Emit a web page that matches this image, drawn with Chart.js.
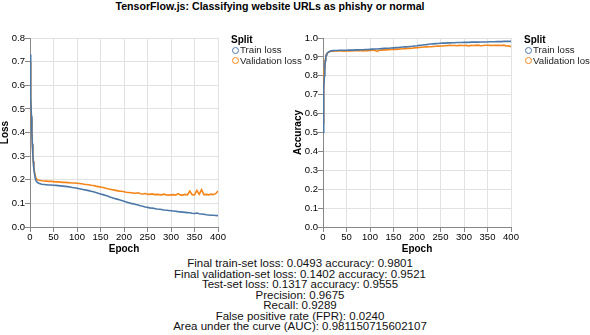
<!DOCTYPE html>
<html>
<head>
<meta charset="utf-8">
<script src="https://cdn.jsdelivr.net/npm/chart.js@4/dist/chart.umd.min.js"></script>
<style>
  body { margin:0; background:#fff; width:590px; height:335px; position:relative; overflow:hidden;
         font-family:"Liberation Sans", Arial, sans-serif; color:#000; }
  #title { position:absolute; left:0; top:0; width:540px; text-align:center; font-weight:bold; font-size:10.6px; line-height:12px; }
  canvas { position:absolute; top:0; }
  #c1 { left:0; }
  #c2 { left:293px; }
  .legend { position:absolute; top:34px; font-size:9.7px; line-height:10.5px; color:#222; }
  .legend .head { font-weight:bold; font-size:10px; line-height:11px; color:#000; }
  .legend .item { height:10.5px; white-space:nowrap; }
  .legend .dot { display:inline-block; width:5px; height:5px; border-radius:50%; border:1.4px solid; margin:0 1px 0 1px; vertical-align:-0.5px; box-sizing:content-box; }
  #lg1 { left:231px; }
  #lg2 { left:524px; }
  #stats { position:absolute; left:0; top:258px; width:600px; text-align:center; font-size:11.5px; line-height:10.5px; color:#111; }
</style>
</head>
<body>
<div id="title">TensorFlow.js: Classifying website URLs as phishy or normal</div>
<canvas id="c1" width="300" height="255"></canvas>
<canvas id="c2" width="300" height="255"></canvas>
<div class="legend" id="lg1"></div>
<div class="legend" id="lg2"></div>
<div id="stats"></div>
<script>
var epochs = [0,1,2,3,4,5,6,7,8,10,12,14,16,18,20,
  25,30,35,40,45,50,55,60,65,70,75,80,85,90,95,100,105,110,115,120,125,130,135,140,145,150,
  155,160,165,170,175,180,185,190,195,200,205,210,215,220,225,230,235,240,245,250,255,260,265,270,275,
  280,285,290,295,300,305,310,315,320,325,330,335,340,345,350,355,360,365,370,375,380,385,390,395,400];

var trainLoss = [0.73,0.64,0.55,0.47,0.40,0.35,0.31,0.275,0.25,0.22,0.20,0.192,0.188,0.186,0.184,
  0.181,0.180,0.179,0.178,0.178,0.177,0.176,0.175,0.174,0.173,0.172,0.171,0.169,0.167,0.166,0.164,0.162,0.160,0.158,0.156,0.154,0.151,0.149,0.146,0.143,0.140,
  0.137,0.134,0.131,0.127,0.124,0.121,0.118,0.115,0.112,0.109,0.106,0.103,0.100,0.098,0.095,0.093,0.090,0.088,0.085,0.083,0.081,0.080,0.078,0.076,0.075,
  0.074,0.072,0.071,0.070,0.069,0.068,0.067,0.065,0.064,0.063,0.062,0.061,0.060,0.058,0.057,0.059,0.056,0.055,0.054,0.052,0.051,0.050,0.050,0.049,0.048];

var valLoss = [0.70,0.62,0.54,0.46,0.40,0.35,0.31,0.28,0.256,0.228,0.21,0.203,0.200,0.199,0.198,
  0.196,0.195,0.194,0.193,0.193,0.192,0.191,0.191,0.190,0.189,0.189,0.188,0.187,0.186,0.186,0.185,0.184,0.183,0.181,0.180,0.179,0.177,0.176,0.173,0.171,0.169,
  0.167,0.165,0.162,0.160,0.158,0.156,0.154,0.152,0.151,0.149,0.147,0.146,0.145,0.144,0.143,0.145,0.141,0.140,0.142,0.139,0.138,0.140,0.137,0.138,0.137,
  0.136,0.139,0.136,0.135,0.136,0.137,0.135,0.141,0.136,0.135,0.138,0.136,0.152,0.137,0.136,0.155,0.138,0.158,0.137,0.138,0.136,0.139,0.137,0.141,0.152];

var trainAcc = [0.50,0.62,0.73,0.80,0.85,0.88,0.90,0.91,0.915,0.922,0.926,0.929,0.931,0.932,0.933,
  0.934,0.934,0.935,0.935,0.935,0.935,0.936,0.936,0.936,0.937,0.937,0.938,0.938,0.939,0.939,0.940,0.941,0.942,0.942,0.943,0.944,0.945,0.946,0.946,0.947,0.948,
  0.949,0.950,0.951,0.952,0.953,0.954,0.955,0.956,0.958,0.959,0.961,0.962,0.964,0.965,0.967,0.968,0.969,0.970,0.971,0.972,0.973,0.973,0.974,0.974,0.975,
  0.975,0.976,0.976,0.976,0.977,0.977,0.977,0.978,0.978,0.978,0.978,0.979,0.979,0.979,0.979,0.980,0.980,0.980,0.981,0.981,0.981,0.982,0.982,0.982,0.982];

var valAcc = [0.55,0.68,0.78,0.84,0.87,0.89,0.905,0.912,0.917,0.922,0.926,0.928,0.929,0.930,0.930,
  0.931,0.932,0.931,0.932,0.930,0.932,0.933,0.932,0.933,0.933,0.933,0.934,0.932,0.934,0.933,0.934,0.935,0.935,0.929,0.935,0.936,0.937,0.937,0.938,0.939,0.940,
  0.940,0.941,0.942,0.943,0.944,0.945,0.945,0.946,0.948,0.949,0.950,0.951,0.952,0.953,0.954,0.954,0.955,0.956,0.957,0.958,0.958,0.959,0.960,0.961,0.960,
  0.960,0.959,0.961,0.960,0.960,0.961,0.958,0.961,0.960,0.961,0.962,0.959,0.960,0.962,0.962,0.961,0.960,0.962,0.961,0.961,0.960,0.962,0.958,0.959,0.954];

var seriesNames = ["Train loss", "Validation loss"];
var colors = ["#4c78a8", "#f58518"];
var lossTicks = [0,0.1,0.2,0.3,0.4,0.5,0.6,0.7,0.8];
var accTicks = [0,0.1,0.2,0.3,0.4,0.5,0.6,0.7,0.8,0.9,1.0];
var epochTicks = [0,50,100,150,200,250,300,350,400];

var statLines = [
  "Final train-set loss: 0.0493 accuracy: 0.9801",
  "Final validation-set loss: 0.1402 accuracy: 0.9521",
  "Test-set loss: 0.1317 accuracy: 0.9555",
  "Precision: 0.9675",
  "Recall: 0.9289",
  "False positive rate (FPR): 0.0240",
  "Area under the curve (AUC): 0.981150715602107"
];
document.getElementById('stats').innerHTML = statLines.join("<br>");

// legends (Split)
function legend(id){
  var d = document.getElementById(id);
  var html = '<div class="head">Split</div>';
  for (var i = 0; i < seriesNames.length; i++) {
    html += '<div class="item"><span class="dot" style="border-color:' + colors[i] + '"></span>' + seriesNames[i] + '</div>';
  }
  d.innerHTML = html;
}
legend('lg1');
legend('lg2');

var fontFam = '"Liberation Sans", Arial, sans-serif';
Chart.defaults.font.family = fontFam;
Chart.defaults.color = "#000";

function pts(a){
  var out = [];
  for (var i = 0; i < epochs.length; i++) out.push({x: epochs[i], y: a[i]});
  return out;
}

function makeChart(id, a, b, yTitle, yTicks){
  var ctx = document.getElementById(id).getContext('2d');
  return new Chart(ctx, {
    type: 'line',
    data: {
      datasets: [
        { label: seriesNames[0], data: pts(a), borderColor: colors[0], borderWidth: 1.6, pointRadius: 0, tension: 0 },
        { label: seriesNames[1], data: pts(b), borderColor: colors[1], borderWidth: 1.6, pointRadius: 0, tension: 0 }
      ]
    },
    options: {
      responsive: false,
      animation: false,
      layout: { padding: { top: 38, left: 0, right: 82, bottom: 0 } },
      plugins: { tooltip: { enabled: false }, legend: { display: false } },
      scales: {
        x: {
          type: 'linear', min: 0, max: 400,
          afterBuildTicks: function(s){ s.ticks = epochTicks.map(function(v){ return {value: v}; }); },
          afterFit: function(s){ s.height = 28; },
          grid: { color: '#e2e2e2', tickLength: 5, tickColor: '#888' },
          border: { color: '#888' },
          ticks: { font: { size: 9.5 }, padding: 0, maxRotation: 0 },
          title: { display: true, text: 'Epoch', font: { size: 10, weight: 'bold', lineHeight: 1.1 }, padding: 0 }
        },
        y: {
          type: 'linear', min: 0, max: yTicks[yTicks.length - 1],
          afterBuildTicks: function(s){ s.ticks = yTicks.map(function(v){ return {value: v}; }); },
          afterFit: function(s){ s.width = 30; },
          grid: { color: '#e2e2e2', tickLength: 5, tickColor: '#888' },
          border: { color: '#888' },
          ticks: { font: { size: 9.5 }, padding: 0, callback: function(v){ return v.toFixed(1); } },
          title: { display: true, text: yTitle, font: { size: 10, weight: 'bold', lineHeight: 1 }, padding: 0 }
        }
      }
    }
  });
}

makeChart('c1', trainLoss, valLoss, 'Loss', lossTicks);
makeChart('c2', trainAcc, valAcc, 'Accuracy', accTicks);
</script>
</body>
</html>
